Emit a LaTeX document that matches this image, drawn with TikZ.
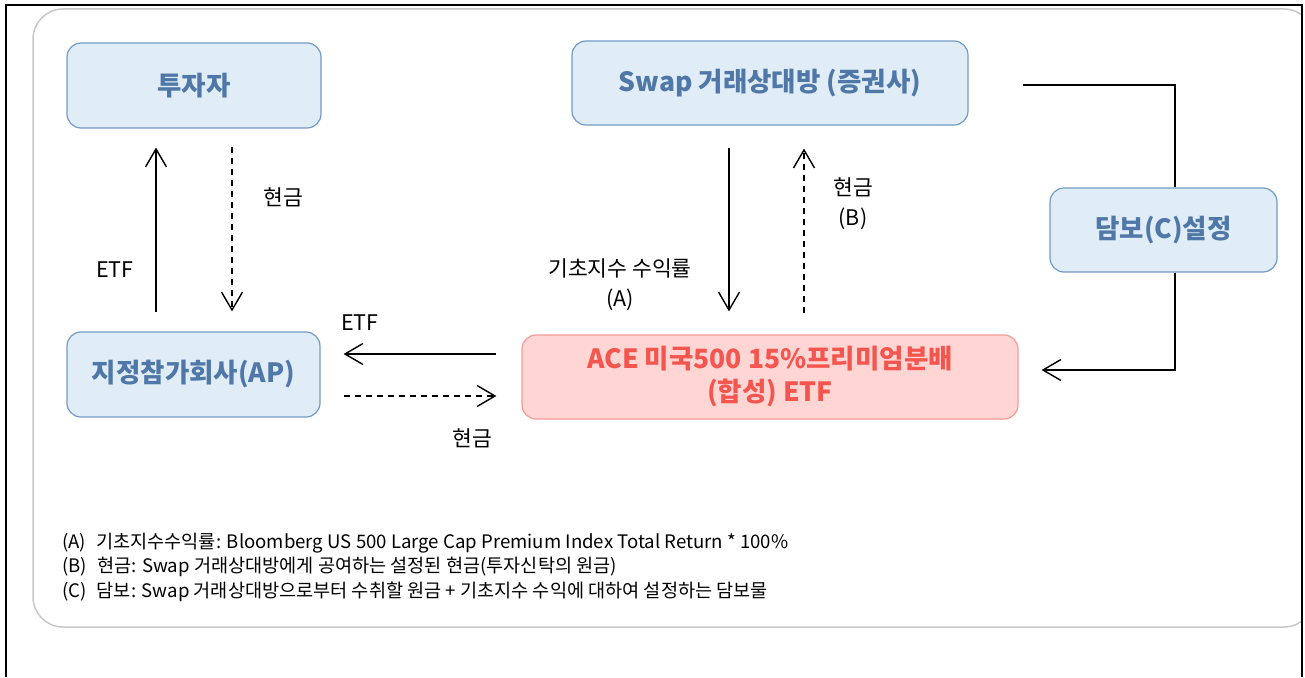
\documentclass[tikz,border=0pt]{standalone}
\usepackage{fontspec}
\setmainfont{Noto Sans CJK KR}
\usetikzlibrary{arrows.meta}
\definecolor{bfill}{HTML}{E0EDF6}
\definecolor{bdraw}{HTML}{7399C6}
\definecolor{btext}{HTML}{4F78A8}
\definecolor{rfill}{HTML}{FFD6D4}
\definecolor{rdraw}{HTML}{F59A94}
\definecolor{rtext}{HTML}{F4564F}
\definecolor{framegray}{HTML}{C8C8C8}
\begin{document}
\begin{tikzpicture}[x=1pt,y=-1pt,
  bluebox/.style={draw=bdraw, fill=bfill, line width=1.2pt, rounded corners=14pt,
    text=btext, font=\fontsize{26.5}{33}\selectfont\bfseries, inner sep=0pt, align=center},
  redbox/.style={draw=rdraw, fill=rfill, line width=1.2pt, rounded corners=14pt,
    text=rtext, font=\fontsize{26.5}{33}\selectfont\bfseries, inner sep=0pt, align=center},
  lbl/.style={font=\fontsize{21.5}{30}\selectfont, inner sep=0pt, align=center},
  arr/.style={line width=1.4pt, -{Straight Barb[length=18pt,width=21pt,line width=1.4pt]}},
  darr/.style={arr, dash pattern=on 6pt off 5pt},
  link/.style={line width=1.4pt}
]
\useasboundingbox (0,0) rectangle (1305,677);
% frames
\begin{scope}
  \clip (0,0) rectangle (1302,677);
  \draw[framegray, line width=1.5pt, rounded corners=30pt] (33,9) rectangle (1314,627);
\end{scope}
\draw[line width=2pt] (6,677) -- (6,5) -- (1302,5) -- (1302,677);

% boxes
\node[bluebox, minimum width=254pt, minimum height=85pt] (inv) at (194,85.5) {투자자};
\node[bluebox, minimum width=396pt, minimum height=84pt] (swap) at (770,83) {Swap 거래상대방 (증권사)};
\node[bluebox, minimum width=227pt, minimum height=84pt] (coll) at (1163.5,230) {담보(C)설정};
\node[bluebox, minimum width=253pt, minimum height=85pt] (ap) at (193.5,374.5) {지정참가회사(AP)};
\node[redbox, minimum width=496pt, minimum height=84pt] (ace) at (770,377) {ACE 미국500 15\%프리미엄분배\\(합성) ETF};

% investor <-> AP
\draw[arr, shorten <=19pt, shorten >=19pt] (ap.north -| 156,0) -- (inv.south -| 156,0);
\draw[darr, shorten <=18pt, shorten >=20pt] (inv.south -| 232,0) -- (ap.north -| 232,0);
\node[lbl] (l1) at (115,270) {ETF};
\node[lbl] (l2) at (283,197) {현금};

% swap <-> ACE
\draw[arr, shorten <=22pt, shorten >=23pt] (swap.south -| 729,0) -- (ace.north -| 729,0);
\draw[darr, shorten <=21pt, shorten >=23pt] (ace.north -| 804,0) -- (swap.south -| 804,0);
\node[lbl] (l3) at (620,285) {기초지수 수익률\\(A)};
\node[lbl] (l4) at (853,204) {현금\\(B)};

% ACE <-> AP
\draw[arr, shorten <=25pt, shorten >=23pt] (ace.west |- 0,354) -- (ap.east |- 0,354);
\draw[darr, shorten <=23pt, shorten >=25pt] (ap.east |- 0,396) -- (ace.west |- 0,396);
\node[lbl] (l5) at (360,323) {ETF};
\node[lbl] (l6) at (472,438) {현금};

% collateral path
\coordinate (c0) at (1023,85);
\coordinate (c1) at (1175,85);
\coordinate (c2) at (1175,370);
\draw[link] (c0) -- (c1) -- (c1 |- coll.north);
\draw[arr, shorten >=23pt] (c2 |- coll.south) -- (c2) -- (ace.east |- c2);

% notes
\node[anchor=west, align=left, inner sep=0pt, font=\fontsize{18.6}{24.5}\selectfont] (notes) at (62,567)
{(A)\hspace{0.55em}기초지수수익률: Bloomberg US 500 Large Cap Premium Index Total Return * 100\%\\
(B)\hspace{0.55em}현금: Swap 거래상대방에게 공여하는 설정된 현금(투자신탁의 원금)\\
(C)\hspace{0.55em}담보: Swap 거래상대방으로부터 수취할 원금 + 기초지수 수익에 대하여 설정하는 담보물};
\end{tikzpicture}
\end{document}
